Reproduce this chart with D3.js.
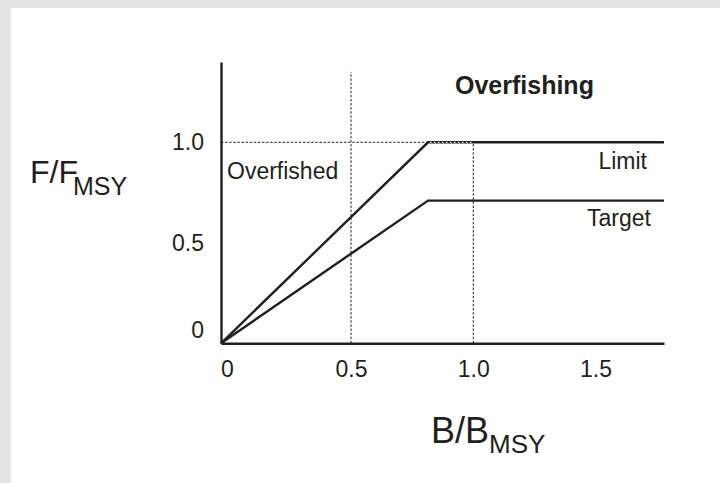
<!DOCTYPE html>
<html>
<head>
<meta charset="utf-8">
<script src="https://cdn.jsdelivr.net/npm/d3@7"></script>
<style>
    body { margin: 0; background: #fff; }
    text { font-family: "Liberation Sans", Arial, Helvetica, sans-serif; fill: #231f20; }
</style>
</head>
<body>
<svg id="chart"></svg>
<script>
"use strict";

// harvest control rule
const xTicks = [0, 0.5, 1.0, 1.5];
const xTickLabels = ["0", "0.5", "1.0", "1.5"];
const yTicks = [0, 0.5, 1.0];
const yTickLabels = ["0", "0.5", "1.0"];

const limitB = [0, 0.815, 1.78];
const limitF = [0, 1.0, 1.0];
const targetB = [0, 0.815, 1.78];
const targetF = [0, 0.71, 0.71];

// dotted reference lines
const refB = [0.5, 1.0];
const refTop = [1.35, 1.0];
const refF = 1.0;

const width = 720;
const height = 483;
const INK = "#231f20";
const FONT_SIZE = 23;

const svg = d3.select("#chart")
    .attr("width", width)
    .attr("height", height);

// grey frame on top / left
svg.append("rect").attr("width", width).attr("height", height).attr("fill", "#e4e4e4");
svg.append("rect").attr("x", 11).attr("y", 8)
    .attr("width", width - 11).attr("height", height - 8).attr("fill", "#fff");

// the drawing is hand made: 0 sits on the corner, ticks 0.5 apart beyond that
const x = d3.scaleLinear().domain([0, 0.5, 1.78]).range([221, 351, 664]);
const y = d3.scaleLinear().domain([0, 1.4]).range([343.3, 61.9]);

// dotted guides
const guides = svg.append("g")
    .attr("stroke", INK)
    .attr("stroke-width", 1)
    .attr("stroke-dasharray", "2.5,1.6")
    .attr("fill", "none");
guides.selectAll("line.v")
    .data(refB)
    .join("line")
    .attr("class", "v")
    .attr("x1", d => x(d)).attr("x2", d => x(d))
    .attr("y1", y(0)).attr("y2", (d, i) => y(refTop[i]));
guides.append("line")
    .attr("x1", x(0)).attr("x2", x(d3.max(refB)))
    .attr("y1", y(refF)).attr("y2", y(refF));

// rule lines
const line = d3.line().x(d => x(d[0])).y(d => y(d[1]));
const rules = svg.append("g")
    .attr("stroke", INK)
    .attr("stroke-width", 2.4)
    .attr("fill", "none")
    .attr("stroke-linejoin", "miter");
rules.append("path").attr("d", line(d3.zip(limitB, limitF)));
rules.append("path").attr("d", line(d3.zip(targetB, targetF)));

// the limit plateau looks dotted until B = 1.0
svg.append("line")
    .attr("x1", x(limitB[1]) + 2).attr("x2", x(d3.max(refB)))
    .attr("y1", y(refF)).attr("y2", y(refF))
    .attr("stroke", "#fff")
    .attr("stroke-width", 1.2)
    .attr("stroke-dasharray", "1.4,2.6");

// axes
const xAxis = svg.append("g")
    .attr("transform", `translate(0,${y(0)})`)
    .call(d3.axisBottom(x).tickValues(xTicks)
        .tickFormat((d, i) => xTickLabels[i])
        .tickSize(0).tickSizeOuter(0).tickPadding(17));
const yAxis = svg.append("g")
    .attr("transform", `translate(${x(0)},0)`)
    .call(d3.axisLeft(y).tickValues(yTicks)
        .tickFormat((d, i) => yTickLabels[i])
        .tickSize(0).tickSizeOuter(0).tickPadding(17));

[xAxis, yAxis].forEach(g => {
    g.attr("font-size", null).attr("font-family", null);
    g.select(".domain").attr("stroke", INK).attr("stroke-width", 2.4);
    g.selectAll("text").style("font-size", FONT_SIZE + "px").attr("fill", INK);
});
// zero labels are pushed off the corner
xAxis.selectAll(".tick text").filter(d => d === 0).attr("dx", 6);
yAxis.selectAll(".tick text").filter(d => d === 0).attr("transform", "translate(0,-13)");

// annotations
const notes = svg.append("g").style("font-size", FONT_SIZE + "px");
notes.append("text").attr("x", 455).attr("y", 94)
    .style("font-weight", "bold").style("font-size", "25px").text("Overfishing");
notes.append("text").attr("x", 227).attr("y", 179).text("Overfished");
notes.append("text").attr("x", 647).attr("y", 169).attr("text-anchor", "end").text("Limit");
notes.append("text").attr("x", 651).attr("y", 226).attr("text-anchor", "end").text("Target");

// axis titles
const yTitle = svg.append("text").attr("x", 30).attr("y", 183).style("font-size", "32px");
yTitle.append("tspan").text("F/F");
yTitle.append("tspan").attr("dx", -5).attr("dy", 12).style("font-size", "25px").text("MSY");

const xTitle = svg.append("text").attr("x", 431).attr("y", 443).style("font-size", "36px");
xTitle.append("tspan").text("B/B");
xTitle.append("tspan").attr("dx", 0).attr("dy", 10).style("font-size", "26px").text("MSY");
</script>
</body>
</html>
